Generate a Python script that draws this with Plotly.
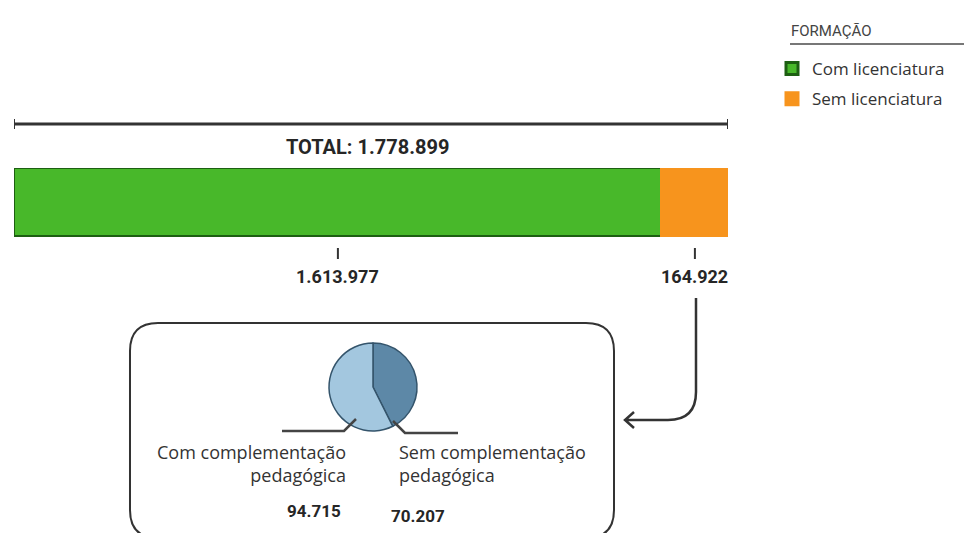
import plotly.graph_objects as go

W, H = 964, 533

# ---- data ----
formacao = ["Com licenciatura", "Sem licenciatura"]
formacao_vals = [1613977, 164922]
bar_colors = ["#48b82a", "#f7941d"]
bar_edges = ["#1d5f12", "#f7941d"]

comp_labels = ["Sem complementação pedagógica", "Com complementação pedagógica"]
comp_vals = [70207, 94715]
comp_colors = ["#5d88a7", "#a3c7df"]

total = sum(formacao_vals)


def fmt(v):
    return f"{v:,}".replace(",", ".")


def px(x):
    return x / W


def py(y):
    return 1 - y / H


def P(x, y):
    return f"{px(x):.5f},{py(y):.5f}"


fig = go.Figure()

for i, (name, v) in enumerate(zip(formacao, formacao_vals)):
    fig.add_trace(go.Bar(
        x=[v], y=[0], orientation="h", name=name,
        marker=dict(color=bar_colors[i], line=dict(color=bar_edges[i], width=3)),
        width=1, legendgroup=f"g{i}", hoverinfo="name+x",
    ))

fig.add_trace(go.Pie(
    labels=comp_labels, values=comp_vals, sort=False, direction="clockwise",
    rotation=0, marker=dict(colors=comp_colors, line=dict(color="#34546b", width=1.5)),
    textinfo="none", showlegend=False,
    domain=dict(x=[px(373 - 44), px(373 + 44)], y=[py(431), py(343)]),
))

shapes = []
annotations = []
line_col = "#333333"
num_col = "#262626"
txt_col = "#333333"

# total bracket line
shapes.append(dict(type="line", xref="x", yref="paper", x0=0, x1=total,
                   y0=py(124), y1=py(124), line=dict(color=line_col, width=3)))
for xv in (0, total):
    shapes.append(dict(type="line", xref="x", yref="paper", x0=xv, x1=xv,
                       y0=py(119), y1=py(129), line=dict(color=line_col, width=2)))
annotations.append(dict(xref="x", yref="paper", x=total / 2 * 0.99, y=py(147),
                        yanchor="middle",
                        text="<b>TOTAL: " + fmt(total) + "</b>", showarrow=False,
                        font=dict(size=20, color=num_col, family="Roboto")))

# segment labels
cum = 0
for v in formacao_vals:
    mid = cum + v / 2
    cum += v
    shapes.append(dict(type="line", xref="x", yref="paper", x0=mid, x1=mid,
                       y0=py(248), y1=py(259), line=dict(color=line_col, width=2)))
    annotations.append(dict(xref="x", yref="paper", x=mid, y=py(276), yanchor="middle",
                            text="<b>" + fmt(v) + "</b>", showarrow=False,
                            font=dict(size=18, color=num_col, family="Roboto")))

# arrow from second segment to box
ax = 696
arrow_path = (f"M {P(ax, 298)} L {P(ax, 392)} Q {P(ax, 420)} {P(668, 420)} L {P(625, 420)} "
              f"M {P(634, 412)} L {P(625, 420)} L {P(634, 428)}")
shapes.append(dict(type="path", xref="paper", yref="paper", path=arrow_path,
                   line=dict(color=line_col, width=2.5)))

# rounded box
x0b, x1b, y0b, y1b, r = 130, 614, 323, 538, 28
box = (f"M {P(x0b + r, y0b)} L {P(x1b - r, y0b)} Q {P(x1b, y0b)} {P(x1b, y0b + r)} "
       f"L {P(x1b, y1b - r)} Q {P(x1b, y1b)} {P(x1b - r, y1b)} "
       f"L {P(x0b + r, y1b)} Q {P(x0b, y1b)} {P(x0b, y1b - r)} "
       f"L {P(x0b, y0b + r)} Q {P(x0b, y0b)} {P(x0b + r, y0b)} Z")
shapes.append(dict(type="path", xref="paper", yref="paper", path=box,
                   line=dict(color=line_col, width=2)))

# pie leader lines
shapes.append(dict(type="path", xref="paper", yref="paper",
                   path=f"M {P(282, 431)} L {P(344, 431)} L {P(356, 419)}",
                   line=dict(color="#444444", width=2.5)))
shapes.append(dict(type="path", xref="paper", yref="paper",
                   path=f"M {P(393, 421)} L {P(405, 433)} L {P(458, 433)}",
                   line=dict(color="#444444", width=2.5)))

txt_font = dict(size=18, color=txt_col, family="Open Sans")
num_font = dict(size=17, color=num_col, family="Roboto")
annotations.append(dict(xref="paper", yref="paper", x=px(348), y=py(463),
                        xanchor="right", yanchor="middle", align="right",
                        text="Com complementação<br>pedagógica",
                        showarrow=False, font=txt_font))
annotations.append(dict(xref="paper", yref="paper", x=px(397), y=py(463),
                        xanchor="left", yanchor="middle", align="left",
                        text="Sem complementação<br>pedagógica",
                        showarrow=False, font=txt_font))
annotations.append(dict(xref="paper", yref="paper", x=px(343), y=py(511),
                        xanchor="right", yanchor="middle",
                        text="<b>" + fmt(comp_vals[1]) + "</b>",
                        showarrow=False, font=num_font))
annotations.append(dict(xref="paper", yref="paper", x=px(389), y=py(516),
                        xanchor="left", yanchor="middle",
                        text="<b>" + fmt(comp_vals[0]) + "</b>",
                        showarrow=False, font=num_font))

# legend title + underline
annotations.append(dict(xref="paper", yref="paper", x=px(789), y=py(31),
                        xanchor="left", yanchor="middle", text="FORMAÇÃO",
                        showarrow=False,
                        font=dict(size=15, color="#444444", family="Roboto")))
shapes.append(dict(type="line", xref="paper", yref="paper", x0=px(790), x1=px(964),
                   y0=py(44), y1=py(44), line=dict(color="#777777", width=2)))

fig.update_layout(
    width=W, height=H, margin=dict(l=0, r=0, t=0, b=0),
    paper_bgcolor="white", plot_bgcolor="white",
    barmode="stack", bargap=0,
    xaxis=dict(domain=[px(14), px(728)], range=[0, total], visible=False, fixedrange=True),
    yaxis=dict(domain=[py(237), py(168)], range=[-0.5, 0.5], visible=False, fixedrange=True),
    shapes=shapes, annotations=annotations,
    showlegend=True,
    legend=dict(x=px(772), y=py(51), xanchor="left", yanchor="top",
                traceorder="grouped", tracegroupgap=5,
                font=dict(size=17, color="#333333", family="Open Sans"),
                bgcolor="rgba(0,0,0,0)"),
)

fig.write_html("out.html")
